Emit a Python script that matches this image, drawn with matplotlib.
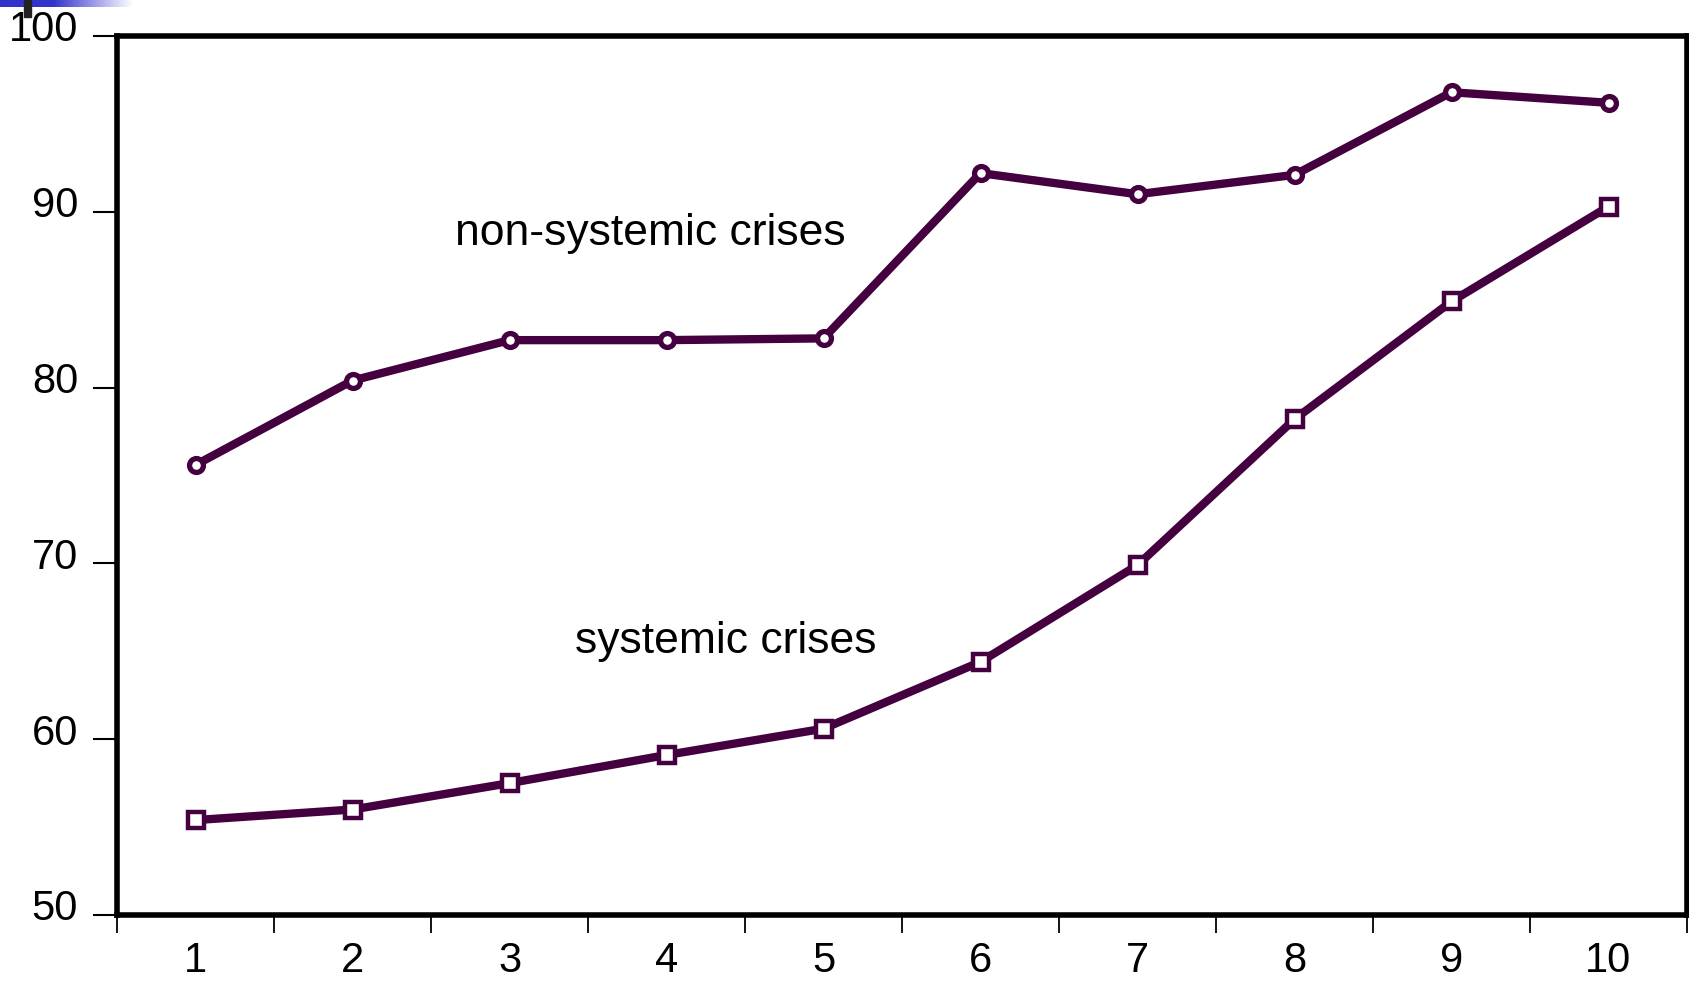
import matplotlib
matplotlib.use('Agg')
import matplotlib.pyplot as plt
import matplotlib.transforms as mtransforms
import numpy as np

periods = [1, 2, 3, 4, 5, 6, 7, 8, 9, 10]
non_systemic = [75.6, 80.4, 82.7, 82.7, 82.8, 92.2, 91.0, 92.1, 96.8, 96.2]
systemic = [55.4, 56.0, 57.5, 59.1, 60.6, 64.4, 69.9, 78.2, 84.9, 90.3]
y_ticks = [50, 60, 70, 80, 90, 100]

line_color = '#44003f'

plt.rcParams['font.family'] = ['Liberation Sans', 'DejaVu Sans']

fig = plt.figure(figsize=(16.9, 9.81), dpi=100)
ax = fig.add_axes([117 / 1690, 66 / 981, 1570 / 1690, 879 / 981])

ax.plot(periods, non_systemic, color=line_color, linewidth=6,
        marker='o', markersize=10, markeredgewidth=3.8,
        markerfacecolor='white', markeredgecolor=line_color, zorder=3)
ax.plot(periods, systemic, color=line_color, linewidth=6,
        marker='s', markersize=12, markeredgewidth=3.2,
        markerfacecolor='white', markeredgecolor=line_color, zorder=3)

ax.text(3.90, 88.1, 'non-systemic crises', fontsize=32, ha='center', va='baseline')
ax.text(4.38, 64.9, 'systemic crises', fontsize=32, ha='center', va='baseline')

ax.set_xlim(0.5, 10.5)
ax.set_ylim(50, 100)

# boundary ticks between periods, labels at the centres
ax.set_xticks(np.arange(0.5, 11, 1))
ax.set_xticklabels([])
ax.set_xticks(periods, minor=True)
ax.set_xticklabels([str(p) for p in periods], minor=True, fontsize=30)
ax.tick_params(axis='x', which='major', direction='out', length=13, width=1.3, color='black')
ax.tick_params(axis='x', which='minor', length=0, pad=19)

ax.set_yticks(y_ticks)
ax.set_yticklabels([str(v) for v in y_ticks], fontsize=30)
ax.tick_params(axis='y', direction='out', length=17, width=1.5, pad=11)
shift = mtransforms.ScaledTranslation(0, 10 / 100, fig.dpi_scale_trans)
for lbl in ax.get_yticklabels():
    lbl.set_transform(lbl.get_transform() + shift)

for side in ['left', 'right', 'top', 'bottom']:
    ax.spines[side].set_linewidth(4)
    ax.spines[side].set_color('black')

# slide header strip in the top-left corner
grad = fig.add_axes([0, 1 - 7 / 981, 133 / 1690, 7 / 981])
g = np.linspace(0, 1, 256)
g = np.clip((g - 0.4) / 0.6, 0, 1)
rgb = np.zeros((1, 256, 3))
rgb[0, :, 0] = 0.2 + 0.8 * g
rgb[0, :, 1] = 0.2 + 0.8 * g
rgb[0, :, 2] = 0.8 + 0.2 * g
grad.imshow(rgb, aspect='auto')
grad.axis('off')
fig.patches.append(plt.Rectangle((24 / 1690, 1 - 17 / 981), 7 / 1690, 17 / 981,
                                 transform=fig.transFigure, color='#222222', zorder=5))

fig.savefig('out.png', dpi=100)
